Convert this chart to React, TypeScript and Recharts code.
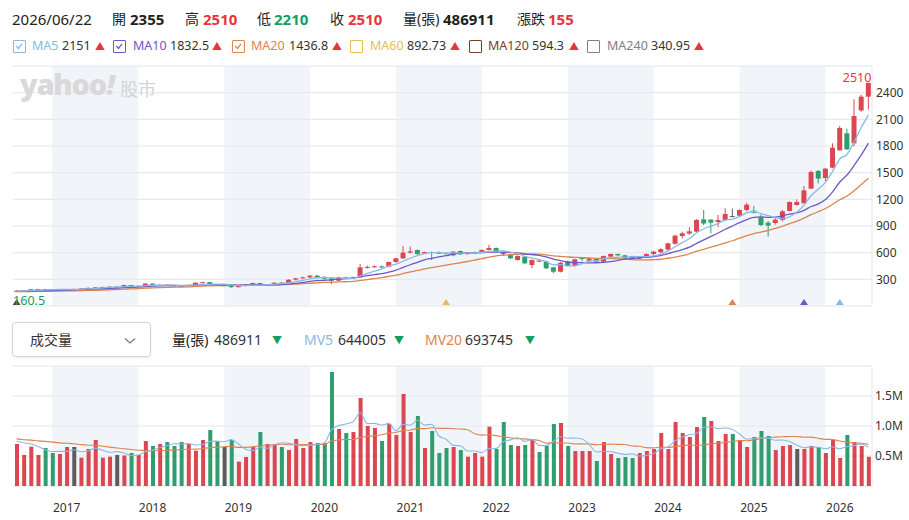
import React from 'react';
import {
  ComposedChart, Bar, Line, XAxis, YAxis, CartesianGrid, ReferenceArea, ReferenceDot,
} from 'recharts';

// ---------------- data (monthly candles, 120 months, index 0 .. 119) ----------------
const opens = [165,172,176,186,190,184,180,186,190,190,
197,204,210,214,217,217,236,220,226,252,
232,238,232,228,222,232,262,268,238,234,
234,212,226,238,258,236,242,262,258,296,
311,322,341,318,312,285,322,312,322,435,
440,446,442,495,536,600,630,590,607,600,
596,570,619,585,595,605,630,652,598,575,
517,555,461,508,499,435,386,499,450,540,
510,532,499,555,585,570,555,532,548,585,
605,635,700,787,815,836,975,972,945,968,
1012,1016,1080,1072,998,937,934,967,1069,1136,
1155,1320,1519,1440,1556,1751,1943,1830,2200,2355];

const highs = [176,180,192,195,193,188,190,194,196,200,
208,214,218,221,222,240,238,232,256,255,
244,242,236,232,236,266,272,270,244,240,
236,230,242,262,262,248,266,270,300,318,
330,350,352,335,322,330,328,330,472,455,
458,455,500,545,675,670,635,612,612,615,
605,618,625,605,612,638,686,660,612,580,
570,560,525,525,510,440,495,510,532,545,
540,538,568,592,590,575,560,560,592,620,
648,712,800,836,885,978,1080,975,1024,1099,
1095,1088,1162,1125,1030,956,990,1080,1178,1200,
1350,1526,1530,1552,1830,2025,1995,2325,2375,2510];

const lows = [160.5,168,172,182,178,175,177,183,185,187,
194,200,206,210,212,214,215,217,222,228,
228,226,222,218,218,228,255,232,228,226,
205,208,222,234,230,232,238,250,255,290,
305,315,312,305,247,280,305,308,318,420,
430,430,436,488,530,590,575,585,517,585,
580,560,575,578,590,598,625,600,562,530,
510,470,424,495,415,370,378,445,440,505,
505,495,495,550,562,530,528,528,540,570,
598,625,690,761,800,830,911,818,890,960,
1000,1005,1065,1040,900,780,915,952,1065,1130,
1155,1320,1380,1406,1549,1750,1755,1800,2185,2210];

const closes = [172,176,188,190,184,180,186,190,190,197,
204,210,214,217,217,236,220,226,252,232,
238,232,228,222,232,262,268,238,234,234,
212,226,238,258,236,242,262,258,296,311,
322,341,318,312,285,322,312,322,435,440,
446,440,495,536,600,615,585,607,600,596,
590,612,581,595,605,630,652,610,598,536,
562,480,517,510,424,386,487,450,525,530,
535,499,562,585,570,536,532,555,585,612,
640,705,791,818,840,968,928,938,968,1035,
1012,1080,1140,1050,911,905,971,1065,1170,1170,
1301,1508,1433,1545,1781,2002,1763,2137,2355,2510];

// volume, thousands of lots (張)
const volumesK = [700,517,656,517,633,550,533,650,650,472,
617,767,472,489,517,508,550,517,750,667,
700,733,667,733,700,589,767,933,750,650,
767,406,483,650,900,700,700,650,600,783,
633,733,717,717,1900,950,883,900,1467,1000,
967,750,1033,850,1533,900,1167,633,917,550,
633,650,600,489,550,489,989,617,1067,683,
667,683,783,567,667,1033,1050,667,583,583,
583,417,733,533,467,483,467,550,583,617,
883,617,1067,883,817,983,1150,1083,750,867,
867,767,650,817,917,833,600,667,683,617,
617,667,650,550,767,467,850,733,667,486.911];

const ma5 = [166.4,168.6,173.2,178.2,182,183.6,185.6,186,186,188.6,
193.4,198.2,203,208.4,212.4,218.8,220.8,223.2,230.2,233.2,
233.6,236,236.4,230.4,230.4,235.2,242.4,244.4,246.8,247.2,
237.2,228.8,228.8,233.6,234,240,247.2,251.2,258.8,273.8,
289.8,305.6,317.6,320.8,315.6,315.6,309.8,310.6,335.2,366.2,
391,416.6,451.2,471.4,503.4,537.2,566.2,588.6,601.4,600.6,
595.6,601,595.8,594.8,596.6,604.6,612.6,618.4,619,605.2,
591.6,557.2,538.6,521,498.6,463.4,464.8,451.4,454.4,475.6,
505.4,507.8,530.2,542.2,550.2,550.4,557,555.6,555.6,564,
584.8,619.4,666.6,713.2,758.8,824.4,869,898.4,928.4,967.4,
976.2,1006.6,1047,1063.4,1038.6,1017.2,995.4,980.4,1004.4,1056.2,
1135.4,1242.8,1316.4,1391.4,1513.6,1653.8,1704.8,1845.6,2007.6,2151];

const ma10 = [163.9,165.2,167.7,170.4,172.5,174.2,176.5,179.2,181.9,185.3,
188.5,191.9,194.5,197.2,200.5,206.1,209.5,213.1,219.3,222.8,
226.2,228.4,229.8,230.3,231.8,234.4,239.2,240.4,238.6,238.8,
236.2,235.6,236.6,240.2,240.6,238.6,238,240,246.2,253.9,
264.9,276.4,284.4,289.8,294.7,302.7,307.7,314.1,328,340.9,
353.3,363.2,380.9,403.3,434.8,464.1,491.4,519.9,536.4,552,
566.4,583.6,592.2,598.1,598.6,600.1,606.8,607.1,606.9,600.9,
598.1,584.9,578.5,570,551.9,527.5,511,495,487.7,487.1,
484.4,486.3,490.8,498.3,512.9,527.9,532.4,542.9,548.9,557.1,
567.6,588.2,611.1,634.4,661.4,704.6,744.2,782.5,820.8,863.1,
900.3,937.8,972.7,995.9,1003,996.7,1001,1013.7,1033.9,1047.4,
1076.3,1119.1,1148.4,1197.9,1284.9,1394.6,1473.8,1581,1699.5,1832.5];

const ma20 = [160.6,161.4,162.8,164.3,165.5,166.5,167.8,169.3,170.8,172.7,
174.9,177.4,180,182.9,185.8,189.6,192.6,195.9,200.5,204.1,
207.4,210.2,212.2,213.8,216.2,220.3,224.4,226.8,229,230.8,
231.2,232,233.2,235.3,236.2,236.5,238.6,240.2,242.4,246.4,
250.6,256,260.5,265,267.7,270.7,272.9,277.1,287.1,297.4,
309.1,319.8,332.7,346.6,364.8,383.4,399.6,417,432.2,446.5,
459.9,473.4,486.6,500.7,516.7,532.1,549.1,563.5,571.7,576.5,
582.3,584.3,585.4,584.1,575.3,563.8,558.9,551.1,547.3,544,
541.3,535.6,534.7,534.2,532.4,527.7,521.7,519,518.3,522.1,
526,537.3,551,566.4,587.2,616.3,638.3,662.7,684.9,710.1,
734,763,791.9,815.2,832.2,850.7,872.6,898.1,927.4,955.3,
988.3,1028.5,1060.6,1096.9,1144,1195.7,1237.4,1297.4,1366.7,1436.8];

const mv5K = [750,720,700,660,604.6,574.6,577.8,576.6,603.2,571,
584.4,631.2,595.6,563.4,572.4,550.6,507.2,516.2,568.4,598.4,
636.8,673.4,703.4,700,706.6,684.4,691.2,744.4,747.8,737.8,
773.4,701.2,611.2,591.2,641.2,627.8,686.6,720,710,686.6,
673.2,679.8,693.2,716.6,940,1003.4,1033.4,1070,1220,1040,
1043.4,1016.8,1043.4,920,1026.6,1013.2,1096.6,1016.6,1030,833.4,
780,676.6,670,584.4,584.4,555.6,623.4,626.8,742.4,769,
804.6,743.4,776.6,676.6,673.4,746.6,820,796.8,800,783.2,
693.2,566.6,579.8,569.8,546.6,526.6,536.6,500,510,540,
620,650,753.4,813.4,853.4,873.4,980,983.2,956.6,966.6,
943.4,866.8,780.2,793.6,803.6,796.8,763.4,766.8,740,680,
636.8,650.2,646.8,620.2,650.2,620.2,656.8,673.4,696.8,644.005];

const mv20K = [785.5,771.9,765.2,751.5,743.7,731.7,718.8,711.8,704.8,688.9,
680.3,679.1,663.2,648.2,634.5,620.4,608.4,594.8,592.8,586.6,
586.6,597.4,598,608.8,612.1,614,625.8,639.9,644.9,653.8,
661.3,643.3,643.8,651.9,671,680.6,688.1,694.8,687.3,693.1,
689.7,689.7,692.2,691.4,751.4,769.5,775.3,773.6,809.5,827,
837,854.2,881.7,891.7,923.3,933.3,956.7,955.8,971.7,960,
960,955.9,950,938.6,871.1,848.1,853.4,839.2,819.2,803.4,
788.4,785,772.5,758.4,715.1,721.7,715.9,717.6,700.9,702.5,
700,688.4,695,697.2,693.1,692.8,666.7,663.3,639.1,635.8,
646.6,643.3,657.5,673.3,680.8,678.3,683.3,704.1,712.5,726.7,
740.9,758.4,754.2,768.4,790.9,808.4,815.1,820.9,825.9,825.9,
812.6,815.1,794.3,777.6,775.1,749.3,734.3,716.8,712.7,693.745];

const quoteDate = '2026/06/22';
const yearLabels = ['2017','2018','2019','2020','2021','2022','2023','2024','2025','2026'];
const yearTickIdx = [7,19,31,43,55,67,79,91,103,115];
const bandStartIdx = [5,29,53,77,101];
const bandSpan = 12;
const priceTicks = [0,300,600,900,1200,1500,1800,2100,2400,2700];
const priceLabelTicks = [300,600,900,1200,1500,1800,2100,2400];
const volTicksK = [0,500,1000,1500,2000];
const volLabelTicks = [500,1000,1500];
const hiddenMAs = [
  { name: 'MA60', value: '892.73' },
  { name: 'MA120', value: '594.3' },
  { name: 'MA240', value: '340.95' },
];
const maMarkers = [
  { i: 0, ma: 'MA120' },
  { i: 60, ma: 'MA60' },
  { i: 100, ma: 'MA20' },
  { i: 110, ma: 'MA10' },
  { i: 115, ma: 'MA5' },
];

// ---------------- styles ----------------
const RED = '#dc4650';
const GREEN = '#2f9d6d';
const DOJI = '#5c5c5c';
const TXT_RED = '#e8353c';
const TXT_GREEN = '#10a062';
const GRID = '#e3e6ea';
const BAND = '#e4ebf4';
const MA_COLORS: Record<string, string> = {
  MA5: '#8ab8e6', MA10: '#6c58c8', MA20: '#de8450', MA60: '#e6bd57', MA120: '#7b3b24', MA240: '#808080',
  MV5: '#8ab8e6', MV20: '#de8450',
};
const FONT = '"Noto Sans", "Noto Sans CJK TC", sans-serif';

const N = closes.length;
const rows = closes.map((c, i) => ({
  i,
  range: [lows[i], highs[i]],
  open: opens[i], high: highs[i], low: lows[i], close: c,
  ma5: ma5[i], ma10: ma10[i], ma20: ma20[i],
  vol: volumesK[i], mv5: mv5K[i], mv20: mv20K[i],
  volDir: Math.sign(c - (i > 0 ? closes[i - 1] : opens[i])),
}));

let minIdx = 0;
lows.forEach((v, i) => { if (v < lows[minIdx]) minIdx = i; });
let maxIdx = 0;
highs.forEach((v, i) => { if (v > highs[maxIdx]) maxIdx = i; });

const Candle = (props: any) => {
  const { x, y, width, height, payload } = props;
  if (!payload || width == null) return null;
  const { open, close, high, low } = payload;
  const top = Math.min(y, y + height);
  const h = Math.abs(height);
  const py = (v: number) => (high === low ? top : top + ((high - v) / (high - low)) * h);
  const color = close > open ? RED : close < open ? GREEN : DOJI;
  const cx = x + width / 2;
  const bTop = py(Math.max(open, close));
  const bBot = py(Math.min(open, close));
  return (
    <g>
      <line x1={cx} x2={cx} y1={top} y2={top + h} stroke={color} strokeWidth={1} />
      <rect x={x} y={bTop} width={width} height={Math.max(bBot - bTop, 1)} fill={color} />
    </g>
  );
};

const VolBar = (props: any) => {
  const { x, y, width, height, payload } = props;
  if (!payload) return null;
  const color = payload.volDir > 0 ? RED : payload.volDir < 0 ? GREEN : DOJI;
  return <rect x={x} y={Math.min(y, y + height)} width={width} height={Math.abs(height)} fill={color} />;
};

const PriceTick = (props: any) => {
  const { x, y, payload } = props;
  if (!priceLabelTicks.includes(payload.value)) return null;
  return <text x={x + 4} y={y} dy="0.36em" fontSize={12} fill="#333" fontFamily={FONT}>{payload.value}</text>;
};

const VolTick = (props: any) => {
  const { x, y, payload } = props;
  if (!volLabelTicks.includes(payload.value)) return null;
  return <text x={x + 3} y={y} dy="0.36em" fontSize={12} fill="#333" fontFamily={FONT}>{(payload.value / 1000).toFixed(1)}M</text>;
};

const YearTick = (props: any) => {
  const { x, y, payload } = props;
  const k = yearTickIdx.indexOf(payload.value);
  if (k < 0) return null;
  return <text x={x} y={y + 26} textAnchor="middle" fontSize={12} fill="#333" fontFamily={FONT}>{yearLabels[k]}</text>;
};

const abs = (left: number, top: number, extra: React.CSSProperties = {}): React.CSSProperties => ({
  position: 'absolute', left, top, whiteSpace: 'nowrap', ...extra,
});

const CheckBox = ({ left, color, checked }: { left: number; color: string; checked: boolean }) => (
  <div style={{ position: 'absolute', left, top: 40, width: 13, height: 13, boxSizing: 'border-box', border: `1.5px solid ${color}`, borderRadius: 1 }}>
    {checked && (
      <svg width={10} height={10} style={{ position: 'absolute', left: 0, top: 0 }}>
        <polyline points="2.2,5 4.5,7.4 8,2.8" fill="none" stroke={color} strokeWidth={1.3} />
      </svg>
    )}
  </div>
);

const fmt = (v: number) => String(Math.round(v * 1000) / 1000);

export default function App() {
  const last = N - 1;
  const change = closes[last] - closes[last - 1];
  const legend = [
    { name: 'MA5', value: fmt(ma5[last]), checked: true, box: 13, label: 32, val: 62, tri: 95 },
    { name: 'MA10', value: fmt(ma10[last]), checked: true, box: 113, label: 133, val: 170, tri: 212 },
    { name: 'MA20', value: fmt(ma20[last]), checked: true, box: 232, label: 251, val: 289, tri: 332 },
    { name: hiddenMAs[0].name, value: hiddenMAs[0].value, checked: false, box: 350, label: 370, val: 407, tri: 450 },
    { name: hiddenMAs[1].name, value: hiddenMAs[1].value, checked: false, box: 469, label: 488, val: 532, tri: 569 },
    { name: hiddenMAs[2].name, value: hiddenMAs[2].value, checked: false, box: 587, label: 607, val: 651, tri: 694 },
  ];
  const h1: React.CSSProperties = { fontSize: 14, lineHeight: '20px', color: '#222' };
  const d1: React.CSSProperties = { fontSize: 15, lineHeight: '20px', color: '#222' };
  const b1: React.CSSProperties = { ...d1, fontWeight: 700 };
  const lg: React.CSSProperties = { fontSize: 12.5, lineHeight: '16px', color: '#333' };
  const vh: React.CSSProperties = { fontSize: 14, lineHeight: '20px', color: '#333' };

  return (
    <div style={{ position: 'relative', width: 909, height: 520, background: '#fff', fontFamily: FONT, overflow: 'hidden' }}>
      <style>{'body{margin:0;}'}</style>

      {/* header row */}
      <span style={abs(12, 9, d1)}>{quoteDate}</span>
      <span style={abs(112, 9, h1)}>開</span>
      <span style={abs(130, 9, b1)}>{opens[last]}</span>
      <span style={abs(185, 9, h1)}>高</span>
      <span style={abs(203, 9, { ...b1, color: TXT_RED })}>{highs[last]}</span>
      <span style={abs(257, 9, h1)}>低</span>
      <span style={abs(274, 9, { ...b1, color: TXT_GREEN })}>{lows[last]}</span>
      <span style={abs(330, 9, h1)}>收</span>
      <span style={abs(348, 9, { ...b1, color: TXT_RED })}>{closes[last]}</span>
      <span style={abs(403, 9, h1)}>量(張)</span>
      <span style={abs(443, 9, b1)}>{Math.round(volumesK[last] * 1000)}</span>
      <span style={abs(517, 9, h1)}>漲跌</span>
      <span style={abs(548, 9, { ...b1, color: TXT_RED })}>{change}</span>

      {/* MA legend row */}
      {legend.map((m) => (
        <React.Fragment key={m.name}>
          <CheckBox left={m.box} color={MA_COLORS[m.name]} checked={m.checked} />
          <span style={abs(m.label, 38, { ...lg, color: MA_COLORS[m.name] })}>{m.name}</span>
          <span style={abs(m.val, 38, lg)}>{m.value}</span>
          <span style={abs(m.tri, 39, { fontSize: 10, lineHeight: '14px', color: TXT_RED })}>▲</span>
        </React.Fragment>
      ))}

      {/* price chart */}
      <div style={{ position: 'absolute', left: 0, top: 0 }}>
        <ComposedChart width={909} height={320} data={rows} margin={{ top: 66, right: 0, bottom: 14, left: 13 }}>
          <XAxis type="number" dataKey="i" domain={[-0.5, N - 0.5]} hide />
          <YAxis orientation="right" domain={[0, 2700]} ticks={priceTicks} interval={0} width={37}
            axisLine={{ stroke: GRID }} tickLine={false} tickSize={0} tickMargin={0} tick={<PriceTick />} />
          {bandStartIdx.map((s) => (
            <ReferenceArea key={s} x1={s} x2={s + bandSpan} fill={BAND} fillOpacity={0.5} stroke="none" ifOverflow="hidden" />
          ))}
          <CartesianGrid vertical={false} stroke={GRID} />
          <Bar dataKey="range" barSize={5} isAnimationActive={false} shape={(p: any) => <Candle {...p} />} />
          <Line type="monotone" dataKey="ma20" stroke={MA_COLORS.MA20} strokeWidth={1.3} dot={false} activeDot={false} isAnimationActive={false} />
          <Line type="monotone" dataKey="ma10" stroke={MA_COLORS.MA10} strokeWidth={1.3} dot={false} activeDot={false} isAnimationActive={false} />
          <Line type="monotone" dataKey="ma5" stroke={MA_COLORS.MA5} strokeWidth={1.3} dot={false} activeDot={false} isAnimationActive={false} />
          {maMarkers.map((m) => (
            <ReferenceDot key={m.i} x={m.i} y={0} r={4} ifOverflow="visible"
              shape={(p: any) => (
                <path d={`M${p.cx},${p.cy - 7} L${p.cx + 4},${p.cy - 1} L${p.cx - 4},${p.cy - 1} Z`} fill={MA_COLORS[m.ma]} />
              )} />
          ))}
          <ReferenceDot x={minIdx} y={lows[minIdx]} r={1} ifOverflow="visible"
            shape={(p: any) => (
              <text x={p.cx - 3.5} y={p.cy + 13.5} fontSize={12.5} fill={TXT_GREEN} fontFamily={FONT}>{lows[minIdx]}</text>
            )} />
          <ReferenceDot x={maxIdx} y={highs[maxIdx]} r={1} ifOverflow="visible"
            shape={(p: any) => (
              <text x={p.cx + 3} y={p.cy - 1} textAnchor="end" fontSize={12.5} fill={TXT_RED} fontFamily={FONT}>{highs[maxIdx]}</text>
            )} />
        </ComposedChart>
      </div>

      {/* watermark */}
      <span style={abs(20, 69, { fontSize: 29, lineHeight: '30px', fontWeight: 900, color: '#d9d9d9', letterSpacing: -1.2 })}>
        yahoo<span style={{ fontStyle: 'italic' }}>!</span>
      </span>
      <span style={abs(120, 78, { fontSize: 18, lineHeight: '22px', color: '#d4d4d4' })}>股市</span>

      {/* volume header */}
      <div style={{ position: 'absolute', left: 12, top: 322, width: 139, height: 35, boxSizing: 'border-box', border: '1px solid #d2d2d2', borderRadius: 4, boxShadow: '0 1px 2px rgba(0,0,0,0.08)' }}>
        <span style={abs(17, 7, { fontSize: 14, lineHeight: '20px', color: '#333' })}>成交量</span>
        <svg width={12} height={8} style={{ position: 'absolute', left: 111, top: 14 }}>
          <polyline points="1,1.5 6,6 11,1.5" fill="none" stroke="#777" strokeWidth={1.2} />
        </svg>
      </div>
      <span style={abs(172, 330, { ...vh, color: '#222' })}>量(張)</span>
      <span style={abs(214, 330, vh)}>{Math.round(volumesK[last] * 1000)}</span>
      <span style={abs(272, 331, { fontSize: 10, lineHeight: '18px', color: TXT_GREEN })}>▼</span>
      <span style={abs(304, 330, { ...vh, color: MA_COLORS.MV5 })}>MV5</span>
      <span style={abs(338, 330, vh)}>{Math.round(mv5K[last] * 1000)}</span>
      <span style={abs(394, 331, { fontSize: 10, lineHeight: '18px', color: TXT_GREEN })}>▼</span>
      <span style={abs(425, 330, { ...vh, color: MA_COLORS.MV20 })}>MV20</span>
      <span style={abs(465, 330, vh)}>{Math.round(mv20K[last] * 1000)}</span>
      <span style={abs(525, 331, { fontSize: 10, lineHeight: '18px', color: TXT_GREEN })}>▼</span>

      {/* volume chart */}
      <div style={{ position: 'absolute', left: 0, top: 320 }}>
        <ComposedChart width={909} height={200} data={rows} margin={{ top: 46, right: 0, bottom: 0, left: 13 }}>
          <XAxis type="number" dataKey="i" domain={[-0.5, N - 0.5]} ticks={yearTickIdx} interval={0} height={34}
            axisLine={false} tickLine={false} tickSize={0} tickMargin={0} tick={<YearTick />} />
          <YAxis orientation="right" domain={[0, 2000]} ticks={volTicksK} interval={0} width={37}
            axisLine={{ stroke: GRID }} tickLine={false} tickSize={0} tickMargin={0} tick={<VolTick />} />
          {bandStartIdx.map((s) => (
            <ReferenceArea key={s} x1={s} x2={s + bandSpan} fill={BAND} fillOpacity={0.5} stroke="none" ifOverflow="hidden" />
          ))}
          <CartesianGrid vertical={false} stroke={GRID} />
          <Bar dataKey="vol" barSize={4} isAnimationActive={false} shape={(p: any) => <VolBar {...p} />} />
          <Line type="monotone" dataKey="mv20" stroke={MA_COLORS.MV20} strokeWidth={1.1} dot={false} activeDot={false} isAnimationActive={false} />
          <Line type="monotone" dataKey="mv5" stroke={MA_COLORS.MV5} strokeWidth={1.1} dot={false} activeDot={false} isAnimationActive={false} />
        </ComposedChart>
      </div>
    </div>
  );
}
